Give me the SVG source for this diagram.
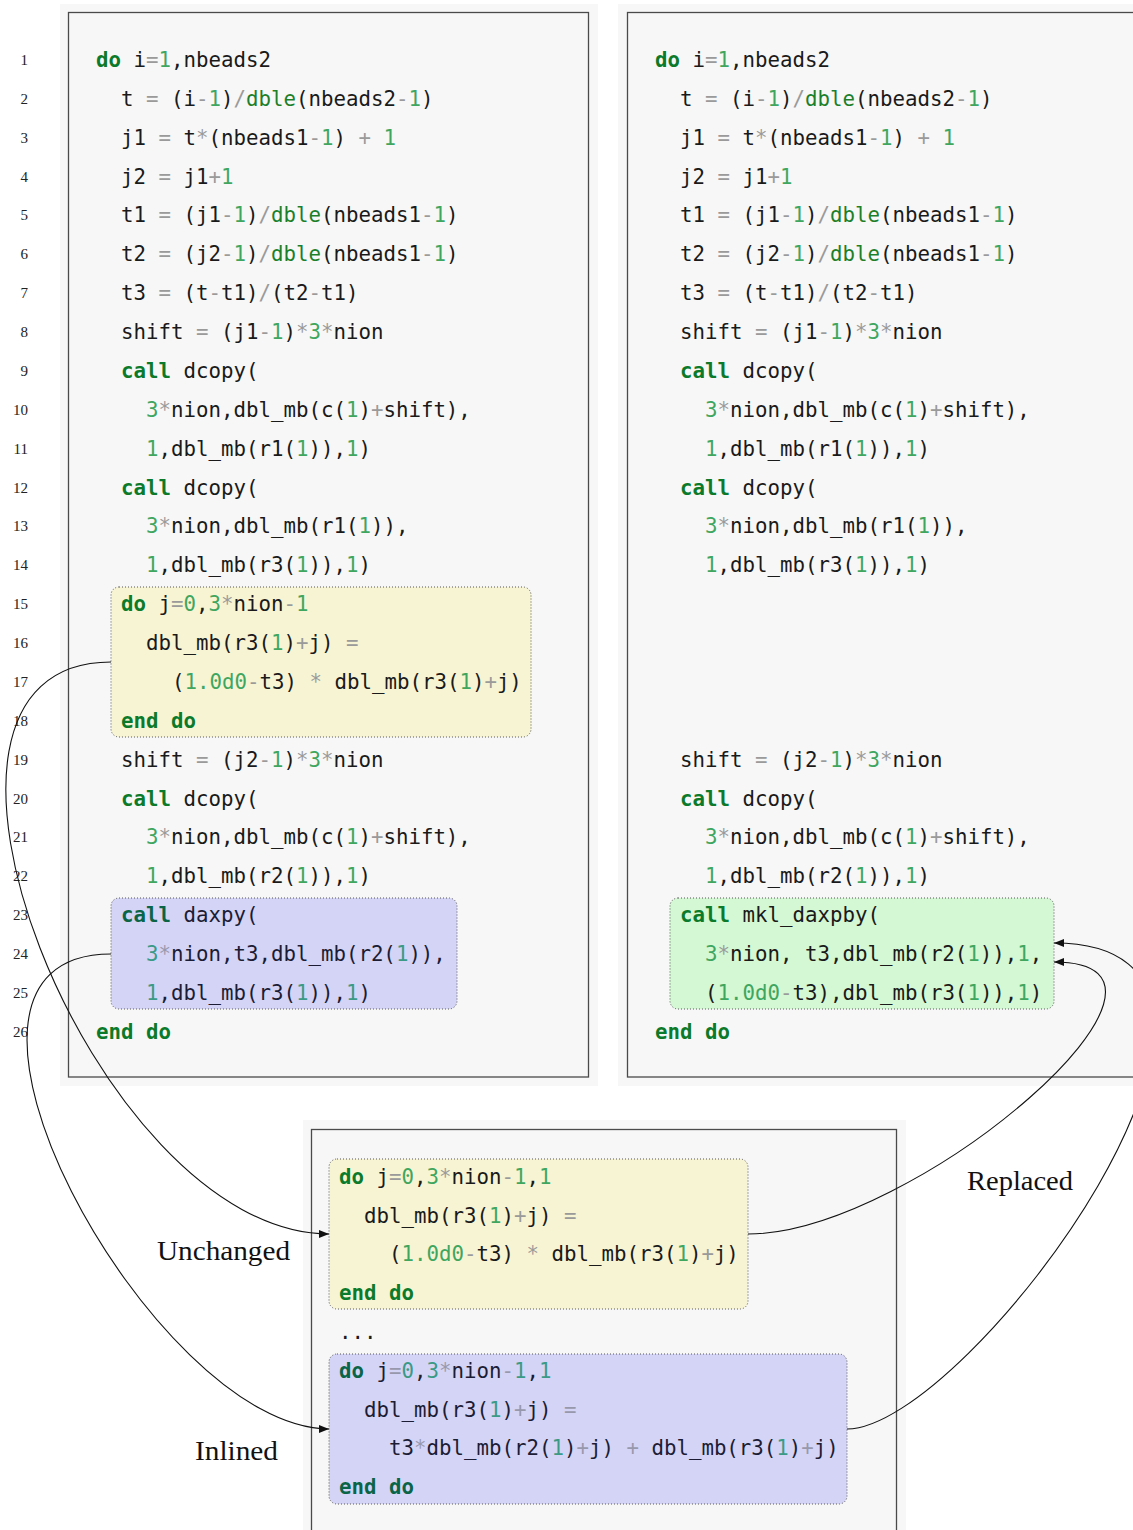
<svg xmlns="http://www.w3.org/2000/svg" width="1133" height="1530" viewBox="0 0 1133 1530">
<style>
  .bg { fill: #f7f7f7; }
  .frame { fill: #f7f7f7; stroke: #4a4a4a; stroke-width: 1.3; }
  .hl { stroke: #555; stroke-width: 1; stroke-dasharray: 1 2; }
  .yel { fill: #f7f4d4; }
  .blu { fill: #d4d4f6; }
  .grn { fill: #d4f7d4; }
  .code { font-family: "DejaVu Sans Mono", "Liberation Mono", monospace; font-size: 20.75px; fill: #1a1a1a; }
  .k { fill: #0b7a2a; font-weight: bold; }
  .f { fill: #1c7f2a; }
  .n { fill: #3fa660; }
  .o { fill: #9a9a9a; }
  .bl text { fill: #1c1c34; }
  .bl .k { fill: #0a6446; }
  .bl .n { fill: #3a9a86; }
  .bl .o { fill: #9898ac; }
  .ln { font-family: "Liberation Serif", "DejaVu Serif", serif; font-size: 15px; fill: #222; text-anchor: end; }
  .lbl { font-family: "Liberation Serif", "DejaVu Serif", serif; font-size: 27px; fill: #111; }
  .edge { fill: none; stroke: #111; stroke-width: 1.1; }
</style>
<defs>
  <marker id="arrow" markerUnits="userSpaceOnUse" markerWidth="12" markerHeight="10" refX="10" refY="4" orient="auto">
    <path d="M0,0 L10,4 L0,8 z" fill="#111"/>
  </marker>
</defs>

<rect width="1133" height="1530" fill="#ffffff"/>

<!-- line numbers -->
<g id="line-numbers" class="ln">
  <text x="28" y="65">1</text>
  <text x="28" y="104">2</text>
  <text x="28" y="143">3</text>
  <text x="28" y="182">4</text>
  <text x="28" y="220">5</text>
  <text x="28" y="259">6</text>
  <text x="28" y="298">7</text>
  <text x="28" y="337">8</text>
  <text x="28" y="376">9</text>
  <text x="28" y="415">10</text>
  <text x="28" y="454">11</text>
  <text x="28" y="493">12</text>
  <text x="28" y="531">13</text>
  <text x="28" y="570">14</text>
  <text x="28" y="609">15</text>
  <text x="28" y="648">16</text>
  <text x="28" y="687">17</text>
  <text x="28" y="726">18</text>
  <text x="28" y="765">19</text>
  <text x="28" y="804">20</text>
  <text x="28" y="842">21</text>
  <text x="28" y="881">22</text>
  <text x="28" y="920">23</text>
  <text x="28" y="959">24</text>
  <text x="28" y="998">25</text>
  <text x="28" y="1037">26</text>
</g>

<!-- original loop -->
<g id="original" class="code" xml:space="preserve">
  <rect class="bg" x="60" y="4" width="538" height="1082"/>
  <rect class="frame" x="68.5" y="12.5" width="520" height="1064.5"/>
  <rect class="hl yel" x="111" y="587" width="420" height="150" rx="8"/>
  <rect class="hl blu" x="111" y="898" width="346" height="111" rx="8"/>
  <text x="96" y="67"><tspan class="k">do</tspan> i<tspan class="o">=</tspan><tspan class="n">1</tspan>,nbeads2</text>
  <text x="121" y="106">t <tspan class="o">=</tspan> (i<tspan class="o">-</tspan><tspan class="n">1</tspan>)<tspan class="o">/</tspan><tspan class="f">dble</tspan>(nbeads2<tspan class="o">-</tspan><tspan class="n">1</tspan>)</text>
  <text x="121" y="145">j1 <tspan class="o">=</tspan> t<tspan class="o">*</tspan>(nbeads1<tspan class="o">-</tspan><tspan class="n">1</tspan>) <tspan class="o">+</tspan> <tspan class="n">1</tspan></text>
  <text x="121" y="184">j2 <tspan class="o">=</tspan> j1<tspan class="o">+</tspan><tspan class="n">1</tspan></text>
  <text x="121" y="222">t1 <tspan class="o">=</tspan> (j1<tspan class="o">-</tspan><tspan class="n">1</tspan>)<tspan class="o">/</tspan><tspan class="f">dble</tspan>(nbeads1<tspan class="o">-</tspan><tspan class="n">1</tspan>)</text>
  <text x="121" y="261">t2 <tspan class="o">=</tspan> (j2<tspan class="o">-</tspan><tspan class="n">1</tspan>)<tspan class="o">/</tspan><tspan class="f">dble</tspan>(nbeads1<tspan class="o">-</tspan><tspan class="n">1</tspan>)</text>
  <text x="121" y="300">t3 <tspan class="o">=</tspan> (t<tspan class="o">-</tspan>t1)<tspan class="o">/</tspan>(t2<tspan class="o">-</tspan>t1)</text>
  <text x="121" y="339">shift <tspan class="o">=</tspan> (j1<tspan class="o">-</tspan><tspan class="n">1</tspan>)<tspan class="o">*</tspan><tspan class="n">3</tspan><tspan class="o">*</tspan>nion</text>
  <text x="121" y="378"><tspan class="k">call</tspan> dcopy(</text>
  <text x="146" y="417"><tspan class="n">3</tspan><tspan class="o">*</tspan>nion,dbl_mb(c(<tspan class="n">1</tspan>)<tspan class="o">+</tspan>shift),</text>
  <text x="146" y="456"><tspan class="n">1</tspan>,dbl_mb(r1(<tspan class="n">1</tspan>)),<tspan class="n">1</tspan>)</text>
  <text x="121" y="495"><tspan class="k">call</tspan> dcopy(</text>
  <text x="146" y="533"><tspan class="n">3</tspan><tspan class="o">*</tspan>nion,dbl_mb(r1(<tspan class="n">1</tspan>)),</text>
  <text x="146" y="572"><tspan class="n">1</tspan>,dbl_mb(r3(<tspan class="n">1</tspan>)),<tspan class="n">1</tspan>)</text>
  <text x="121" y="611"><tspan class="k">do</tspan> j<tspan class="o">=</tspan><tspan class="n">0</tspan>,<tspan class="n">3</tspan><tspan class="o">*</tspan>nion<tspan class="o">-</tspan><tspan class="n">1</tspan></text>
  <text x="146" y="650">dbl_mb(r3(<tspan class="n">1</tspan>)<tspan class="o">+</tspan>j) <tspan class="o">=</tspan></text>
  <text x="172" y="689">(<tspan class="n">1.0d0</tspan><tspan class="o">-</tspan>t3) <tspan class="o">*</tspan> dbl_mb(r3(<tspan class="n">1</tspan>)<tspan class="o">+</tspan>j)</text>
  <text x="121" y="728"><tspan class="k">end do</tspan></text>
  <text x="121" y="767">shift <tspan class="o">=</tspan> (j2<tspan class="o">-</tspan><tspan class="n">1</tspan>)<tspan class="o">*</tspan><tspan class="n">3</tspan><tspan class="o">*</tspan>nion</text>
  <text x="121" y="806"><tspan class="k">call</tspan> dcopy(</text>
  <text x="146" y="844"><tspan class="n">3</tspan><tspan class="o">*</tspan>nion,dbl_mb(c(<tspan class="n">1</tspan>)<tspan class="o">+</tspan>shift),</text>
  <text x="146" y="883"><tspan class="n">1</tspan>,dbl_mb(r2(<tspan class="n">1</tspan>)),<tspan class="n">1</tspan>)</text>
  <g class="bl">
    <text x="121" y="922"><tspan class="k">call</tspan> daxpy(</text>
    <text x="146" y="961"><tspan class="n">3</tspan><tspan class="o">*</tspan>nion,t3,dbl_mb(r2(<tspan class="n">1</tspan>)),</text>
    <text x="146" y="1000"><tspan class="n">1</tspan>,dbl_mb(r3(<tspan class="n">1</tspan>)),<tspan class="n">1</tspan>)</text>
  </g>
  <text x="96" y="1039"><tspan class="k">end do</tspan></text>
</g>

<!-- MKL version of the loop -->
<g id="mkl-version" class="code" xml:space="preserve">
  <rect class="bg" x="618" y="4" width="520" height="1082"/>
  <rect class="frame" x="627.5" y="12.5" width="520" height="1064.5"/>
  <rect class="hl grn" x="670" y="898" width="384" height="111" rx="8"/>
  <text x="655" y="67"><tspan class="k">do</tspan> i<tspan class="o">=</tspan><tspan class="n">1</tspan>,nbeads2</text>
  <text x="680" y="106">t <tspan class="o">=</tspan> (i<tspan class="o">-</tspan><tspan class="n">1</tspan>)<tspan class="o">/</tspan><tspan class="f">dble</tspan>(nbeads2<tspan class="o">-</tspan><tspan class="n">1</tspan>)</text>
  <text x="680" y="145">j1 <tspan class="o">=</tspan> t<tspan class="o">*</tspan>(nbeads1<tspan class="o">-</tspan><tspan class="n">1</tspan>) <tspan class="o">+</tspan> <tspan class="n">1</tspan></text>
  <text x="680" y="184">j2 <tspan class="o">=</tspan> j1<tspan class="o">+</tspan><tspan class="n">1</tspan></text>
  <text x="680" y="222">t1 <tspan class="o">=</tspan> (j1<tspan class="o">-</tspan><tspan class="n">1</tspan>)<tspan class="o">/</tspan><tspan class="f">dble</tspan>(nbeads1<tspan class="o">-</tspan><tspan class="n">1</tspan>)</text>
  <text x="680" y="261">t2 <tspan class="o">=</tspan> (j2<tspan class="o">-</tspan><tspan class="n">1</tspan>)<tspan class="o">/</tspan><tspan class="f">dble</tspan>(nbeads1<tspan class="o">-</tspan><tspan class="n">1</tspan>)</text>
  <text x="680" y="300">t3 <tspan class="o">=</tspan> (t<tspan class="o">-</tspan>t1)<tspan class="o">/</tspan>(t2<tspan class="o">-</tspan>t1)</text>
  <text x="680" y="339">shift <tspan class="o">=</tspan> (j1<tspan class="o">-</tspan><tspan class="n">1</tspan>)<tspan class="o">*</tspan><tspan class="n">3</tspan><tspan class="o">*</tspan>nion</text>
  <text x="680" y="378"><tspan class="k">call</tspan> dcopy(</text>
  <text x="705" y="417"><tspan class="n">3</tspan><tspan class="o">*</tspan>nion,dbl_mb(c(<tspan class="n">1</tspan>)<tspan class="o">+</tspan>shift),</text>
  <text x="705" y="456"><tspan class="n">1</tspan>,dbl_mb(r1(<tspan class="n">1</tspan>)),<tspan class="n">1</tspan>)</text>
  <text x="680" y="495"><tspan class="k">call</tspan> dcopy(</text>
  <text x="705" y="533"><tspan class="n">3</tspan><tspan class="o">*</tspan>nion,dbl_mb(r1(<tspan class="n">1</tspan>)),</text>
  <text x="705" y="572"><tspan class="n">1</tspan>,dbl_mb(r3(<tspan class="n">1</tspan>)),<tspan class="n">1</tspan>)</text>
  <text x="680" y="767">shift <tspan class="o">=</tspan> (j2<tspan class="o">-</tspan><tspan class="n">1</tspan>)<tspan class="o">*</tspan><tspan class="n">3</tspan><tspan class="o">*</tspan>nion</text>
  <text x="680" y="806"><tspan class="k">call</tspan> dcopy(</text>
  <text x="705" y="844"><tspan class="n">3</tspan><tspan class="o">*</tspan>nion,dbl_mb(c(<tspan class="n">1</tspan>)<tspan class="o">+</tspan>shift),</text>
  <text x="705" y="883"><tspan class="n">1</tspan>,dbl_mb(r2(<tspan class="n">1</tspan>)),<tspan class="n">1</tspan>)</text>
  <text x="680" y="922"><tspan class="k">call</tspan> mkl_daxpby(</text>
  <text x="705" y="961"><tspan class="n">3</tspan><tspan class="o">*</tspan>nion, t3,dbl_mb(r2(<tspan class="n">1</tspan>)),<tspan class="n">1</tspan>,</text>
  <text x="705" y="1000">(<tspan class="n">1.0d0</tspan><tspan class="o">-</tspan>t3),dbl_mb(r3(<tspan class="n">1</tspan>)),<tspan class="n">1</tspan>)</text>
  <text x="655" y="1039"><tspan class="k">end do</tspan></text>
</g>

<!-- compiler-generated loops -->
<g id="compiled" class="code" xml:space="preserve">
  <rect class="bg" x="303" y="1120" width="603" height="420"/>
  <rect class="frame" x="311.5" y="1129.5" width="585" height="420"/>
  <rect class="hl yel" x="329" y="1159" width="419" height="150" rx="8"/>
  <rect class="hl blu" x="329" y="1354" width="518" height="150" rx="8"/>
  <text x="339" y="1184"><tspan class="k">do</tspan> j<tspan class="o">=</tspan><tspan class="n">0</tspan>,<tspan class="n">3</tspan><tspan class="o">*</tspan>nion<tspan class="o">-</tspan><tspan class="n">1</tspan>,<tspan class="n">1</tspan></text>
  <text x="364" y="1223">dbl_mb(r3(<tspan class="n">1</tspan>)<tspan class="o">+</tspan>j) <tspan class="o">=</tspan></text>
  <text x="389" y="1261">(<tspan class="n">1.0d0</tspan><tspan class="o">-</tspan>t3) <tspan class="o">*</tspan> dbl_mb(r3(<tspan class="n">1</tspan>)<tspan class="o">+</tspan>j)</text>
  <text x="339" y="1300"><tspan class="k">end do</tspan></text>
  <text x="339" y="1339">...</text>
  <g class="bl">
    <text x="339" y="1378"><tspan class="k">do</tspan> j<tspan class="o">=</tspan><tspan class="n">0</tspan>,<tspan class="n">3</tspan><tspan class="o">*</tspan>nion<tspan class="o">-</tspan><tspan class="n">1</tspan>,<tspan class="n">1</tspan></text>
    <text x="364" y="1417">dbl_mb(r3(<tspan class="n">1</tspan>)<tspan class="o">+</tspan>j) <tspan class="o">=</tspan></text>
    <text x="389" y="1455">t3<tspan class="o">*</tspan>dbl_mb(r2(<tspan class="n">1</tspan>)<tspan class="o">+</tspan>j) <tspan class="o">+</tspan> dbl_mb(r3(<tspan class="n">1</tspan>)<tspan class="o">+</tspan>j)</text>
    <text x="339" y="1494"><tspan class="k">end do</tspan></text>
  </g>
</g>

<!-- edge labels -->
<g id="labels" class="lbl">
  <text x="157" y="1260" textLength="133" lengthAdjust="spacingAndGlyphs">Unchanged</text>
  <text x="195" y="1460" textLength="83" lengthAdjust="spacingAndGlyphs">Inlined</text>
  <text x="967" y="1190" textLength="106" lengthAdjust="spacingAndGlyphs">Replaced</text>
</g>

<!-- connectors -->
<g id="connectors">
  <path class="edge" d="M111,662 C-133,662 93,1234 329,1234" marker-end="url(#arrow)"/>
  <path class="edge" d="M111,954 C-109,954 153,1429 329,1429" marker-end="url(#arrow)"/>
  <path class="edge" d="M748,1234 C915,1234 1229,962 1054,962" marker-end="url(#arrow)"/>
  <path class="edge" d="M847,1429 C968,1429 1326,943 1054,943" marker-end="url(#arrow)"/>
</g>
</svg>
